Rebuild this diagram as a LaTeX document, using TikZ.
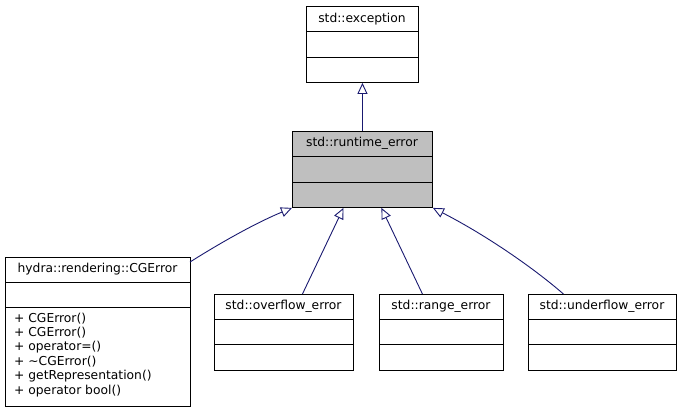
\documentclass[tikz,border=0pt]{standalone}
\usepackage{fontspec}
\setmainfont{DejaVu Sans}
\usetikzlibrary{arrows.meta,calc}
\definecolor{edgeblue}{HTML}{191970}
\definecolor{boxgray}{HTML}{BFBFBF}
\tikzset{
  cls/.style={draw=black, line width=0.9pt, inner sep=0pt, anchor=north west},
  sep/.style={draw=black, line width=0.7pt},
  ttl/.style={font=\fontsize{12.3}{13}\selectfont, inner sep=0pt, anchor=center},
  mem/.style={font=\fontsize{12.3}{13.8}\selectfont, inner sep=0pt, anchor=north west, align=left},
  inh/.style={draw=edgeblue, line width=0.9pt, -{Triangle[open, length=11pt, width=10pt, fill=white]}}
}
\begin{document}
\begin{tikzpicture}[x=1pt,y=-1pt]
\useasboundingbox (0,0) rectangle (683,413);
% std::exception
\node[cls, minimum width=112pt, minimum height=76pt] (exc) at (306,6) {};
\node[ttl] (exct) at (362,19) {std::exception};
\draw[sep] (306,31.5) -- (418,31.5);
\draw[sep] (306,57) -- (418,57);
% std::runtime_error
\node[cls, fill=boxgray, minimum width=140pt, minimum height=76pt] (rt) at (292,131) {};
\node[ttl] (rtt) at (362,143.5) {std::runtime\_error};
\draw[sep] (292,156.5) -- (432,156.5);
\draw[sep] (292,182) -- (432,182);
% hydra::rendering::CGError
\node[cls, minimum width=185pt, minimum height=149pt] (cge) at (5,257) {};
\node[ttl] (cget) at (97.5,269) {hydra::rendering::CGError};
\draw[sep] (5,282.5) -- (190,282.5);
\draw[sep] (5,307.5) -- (190,307.5);
\node[mem, font=\fontsize{12.3}{13.85}\selectfont] (cgem) at (14,312.5) {+ CGError()\\[0.6pt]+ CGError()\\[0.6pt]+ operator=()\\[0.6pt]+ \char"223C CGError()\\[0.6pt]+ getRepresentation()\\[0.6pt]+ operator bool()};
% std::overflow_error
\node[cls, minimum width=139pt, minimum height=76pt] (ovf) at (214,294) {};
\node[ttl] (ovft) at (283.5,306) {std::overflow\_error};
\draw[sep] (214,319) -- (353,319);
\draw[sep] (214,344.5) -- (353,344.5);
% std::range_error
\node[cls, minimum width=124pt, minimum height=76pt] (rng) at (379,294) {};
\node[ttl] (rngt) at (441,306) {std::range\_error};
\draw[sep] (379,319) -- (503,319);
\draw[sep] (379,344.5) -- (503,344.5);
% std::underflow_error
\node[cls, minimum width=148pt, minimum height=76pt] (unf) at (528,294) {};
\node[ttl] (unft) at (602,306) {std::underflow\_error};
\draw[sep] (528,319) -- (676,319);
\draw[sep] (528,344.5) -- (676,344.5);
% inheritance edges
\draw[inh] (rt.north) -- (exc.south);
\coordinate (cgeout) at (190,262);
\draw[inh] (cgeout) .. controls (225,240) and (258,222) .. (rt.south west);
\draw[inh] ($(ovf.north)+(18.5,0)$) -- ($(rt.south)+(-19,0)$);
\draw[inh] ($(rng.north)+(-19,0)$) -- ($(rt.south)+(19,0)$);
\draw[inh] ($(unf.north)+(-39,0)$) .. controls (530,265) and (482,233) .. (rt.south east);
\end{tikzpicture}
\end{document}
